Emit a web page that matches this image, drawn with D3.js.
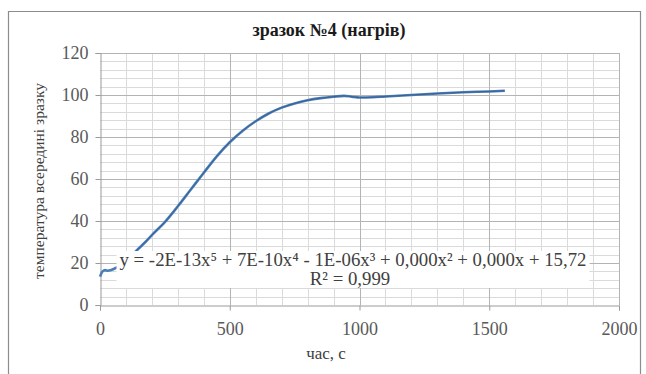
<!DOCTYPE html>
<html>
<head>
<meta charset="utf-8">
<script src="https://cdn.jsdelivr.net/npm/d3@7"></script>
<style>
  body { margin: 0; background: #fff; }
  text { font-family: "Liberation Serif", "Times New Roman", serif; }
</style>
</head>
<body>
<script>

// time, s
var timeSec = [0, 5, 10, 20, 30, 40, 50, 60, 70, 80, 100, 125, 150, 175, 200, 250, 300, 350, 400, 450, 500,
  550, 600, 650, 700, 750, 800, 850, 900, 940, 970, 1000, 1050, 1100, 1200, 1300, 1400, 1500, 1560];
// temperature inside the sample
var tempC = [13.5, 15, 16, 16.6, 16.3, 16.5, 17, 17.6, 18.2, 19, 21, 24, 27, 30, 33.3, 39.5, 47, 55, 63, 70.8, 77.5,
  83, 87.5, 91.2, 94, 96, 97.5, 98.5, 99.2, 99.6, 99.2, 98.8, 98.9, 99.3, 100, 100.7, 101.3, 101.7, 102];

var xTicks = [0, 500, 1000, 1500, 2000];
var yTicks = [0, 20, 40, 60, 80, 100, 120];

var titleText = "зразок №4 (нагрів)";
var xTitle = "час, с";
var yTitle = "температура всередині зразку";
var eqText = "y = -2E-13x⁵ + 7E-10x⁴ - 1E-06x³ + 0,000x² + 0,000x + 15,72";
var r2Text = "R² = 0,999";

var W = 646, H = 374;

var svg = d3.select("body").append("svg")
    .attr("width", W)
    .attr("height", H);

// outer frame (bottom edge is cut off)
svg.append("path")
    .attr("d", "M8.5," + H + "V11.5H640.5V" + H)
    .attr("fill", "none")
    .attr("stroke", "#8c8c8c")
    .attr("stroke-width", 1.2);

var x = d3.scaleLinear().domain([0, 2000]).range([100, 619]);
var y = d3.scaleLinear().domain([0, 120]).range([305, 53]);

var g = svg.append("g");

// minor grid
g.selectAll(".vmin")
  .data(d3.range(100, 2000, 100).filter(function(d){ return d % 500 !== 0; }))
  .enter().append("line")
    .attr("x1", function(d){ return Math.round(x(d)) + 0.5; })
    .attr("x2", function(d){ return Math.round(x(d)) + 0.5; })
    .attr("y1", y(0)).attr("y2", y(120))
    .attr("stroke", "#dadada");

g.selectAll(".hmin")
  .data(d3.range(4, 120, 4).filter(function(d){ return d % 20 !== 0; }))
  .enter().append("line")
    .attr("x1", x(0)).attr("x2", x(2000))
    .attr("y1", function(d){ return Math.round(y(d)) + 0.5; })
    .attr("y2", function(d){ return Math.round(y(d)) + 0.5; })
    .attr("stroke", "#dadada");

// major grid
g.selectAll(".vmaj")
  .data(xTicks.slice(1))
  .enter().append("line")
    .attr("x1", function(d){ return Math.round(x(d)) + 0.5; })
    .attr("x2", function(d){ return Math.round(x(d)) + 0.5; })
    .attr("y1", y(0)).attr("y2", y(120))
    .attr("stroke", "#b4b4b4");

g.selectAll(".hmaj")
  .data(yTicks.slice(1))
  .enter().append("line")
    .attr("x1", x(0)).attr("x2", x(2000))
    .attr("y1", function(d){ return Math.round(y(d)) + 0.5; })
    .attr("y2", function(d){ return Math.round(y(d)) + 0.5; })
    .attr("stroke", "#b4b4b4");

// axes
var xAxis = svg.append("g")
    .attr("transform", "translate(0," + (Math.round(y(0)) + 0.5) + ")")
    .call(d3.axisBottom(x).tickValues(xTicks).tickFormat(d3.format("d")).tickSize(5).tickPadding(12));
var yAxis = svg.append("g")
    .attr("transform", "translate(" + (Math.round(x(0)) + 0.5) + ",0)")
    .call(d3.axisLeft(y).tickValues(yTicks).tickFormat(d3.format("d")).tickSize(5).tickPadding(7));

[xAxis, yAxis].forEach(function(a){
  a.attr("font-family", "'Liberation Serif', serif").attr("font-size", 18);
  a.select(".domain").attr("stroke", "#9a9a9a");
  a.selectAll(".tick line").attr("stroke", "#9a9a9a");
  a.selectAll("text")
    .style("font-family", "'Liberation Serif', serif")
    .style("font-size", "18px")
    .attr("fill", "#595959");
});

// data line + trendline overlay
var line = d3.line()
    .x(function(d, i){ return x(timeSec[i]); })
    .y(function(d){ return y(d); })
    .curve(d3.curveMonotoneX);

svg.append("path")
    .datum(tempC)
    .attr("d", line)
    .attr("fill", "none")
    .attr("stroke", "#4a7ebb")
    .attr("stroke-width", 2.6);

svg.append("path")
    .datum(tempC.slice(8))
    .attr("d", d3.line()
      .x(function(d, i){ return x(timeSec[i + 8]); })
      .y(function(d){ return y(d); })
      .curve(d3.curveMonotoneX))
    .attr("fill", "none")
    .attr("stroke", "#2a3f5f")
    .attr("stroke-width", 0.8)
    .attr("stroke-opacity", 0.6);

// trendline label
var lab = svg.append("g");
var eq = lab.append("text")
    .attr("x", 353).attr("y", 266)
    .attr("text-anchor", "middle")
    .style("font-size", "18.8px")
    .attr("fill", "#404040")
    .text(eqText);
var r2 = lab.append("text")
    .attr("x", 350).attr("y", 285)
    .attr("text-anchor", "middle")
    .style("font-size", "18.8px")
    .attr("fill", "#404040")
    .text(r2Text);
var bb = eq.node().getBBox();
lab.insert("rect", "text")
    .attr("x", bb.x - 3).attr("y", 251)
    .attr("width", bb.width + 6).attr("height", 37)
    .attr("fill", "#fff");

// titles
svg.append("text")
    .attr("x", 329).attr("y", 36)
    .attr("text-anchor", "middle")
    .style("font-size", "18px")
    .style("font-weight", "bold")
    .attr("fill", "#1a1a1a")
    .text(titleText);

svg.append("text")
    .attr("x", 326).attr("y", 359)
    .attr("text-anchor", "middle")
    .style("font-size", "17px")
    .attr("fill", "#404040")
    .text(xTitle);

svg.append("text")
    .attr("transform", "translate(44,181) rotate(-90)")
    .attr("text-anchor", "middle")
    .style("font-size", "15.5px")
    .attr("fill", "#404040")
    .text(yTitle);

</script>
</body>
</html>
